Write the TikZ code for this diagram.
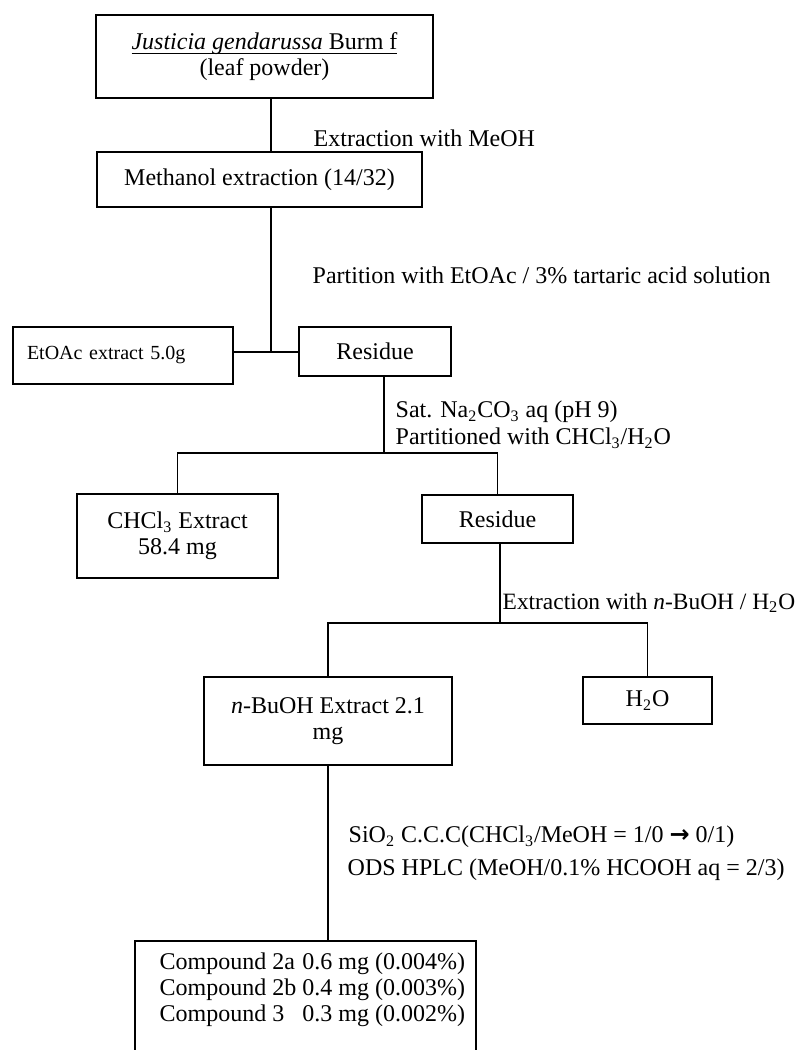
\documentclass[tikz,border=0pt]{standalone}
\usepackage{fontspec}
\setmainfont{Liberation Serif}
\newfontfamily\arrowfont{DejaVu Sans}

\begin{document}
\begin{tikzpicture}[x=0.5pt, y=-0.5pt, line width=0.7pt,
every node/.style={font=\fontsize{12pt}{13pt}\selectfont},
flowbox/.style={draw, inner sep=0pt, align=center},
steptext/.style={anchor=west, inner sep=0pt},
]
\clip (0,0) rectangle (800,1050);

\node (plant) [flowbox, minimum width=168.5pt, minimum height=41.5pt] at (264.5,56.5) {\underline{\raisebox{0pt}[\height][0.6pt]{\textit{Justicia gendarussa} Burm f}}\\(leaf powder)};
\node (meoh) [flowbox, minimum width=162.5pt, minimum height=27.5pt] at (259.5,179.5) {Methanol extraction (14/32)};
\node (etoac) [flowbox, minimum width=110pt, minimum height=28.5pt, text width=96pt, align=left, font=\fontsize{10pt}{12pt}\selectfont] at (123,355.5) {EtOAc extract 5.0g};
\node (res1) [flowbox, minimum width=76pt, minimum height=24.5pt] at (375,351.5) {Residue};
\node (chcl) [flowbox, minimum width=100.5pt, minimum height=42pt] at (177.5,536) {CHCl\textsubscript{3} Extract\\58.4 mg};
\node (res2) [flowbox, minimum width=75.5pt, minimum height=24pt] at (497.5,519) {Residue};
\node (nbuoh) [flowbox, minimum width=124pt, minimum height=44pt] at (328,721) {\textit{n}-BuOH Extract 2.1\\mg};
\node (water) [flowbox, minimum width=64.5pt, minimum height=23.5pt] at (647.5,700.5) {H\textsubscript{2}O};
\node (cmpd) [anchor=west, inner sep=0pt] at (159,990) {\begin{tabular}{@{}l@{ }l@{}}
Compound 2a & 0.6 mg (0.004\%)\\
Compound 2b & 0.4 mg (0.003\%)\\
Compound 3 & 0.3 mg (0.002\%)
\end{tabular}};
\draw (135,1060) |- (476,941) -- (476,1060);

\node (lmeoh) [steptext] at (313,138) {Extraction with MeOH};
\node (lpart) [steptext] at (312,275) {Partition with EtOAc / 3\% tartaric acid solution};
\node (lsat) [steptext] at (395,412) {Sat. Na\textsubscript{2}CO\textsubscript{3} aq (pH 9)};
\node (lchcl) [steptext] at (395,438) {Partitioned with CHCl\textsubscript{3}/H\textsubscript{2}O};
\node (lbuoh) [steptext, font=\fontsize{11.7pt}{13pt}\selectfont] at (502,603) {Extraction with \textit{n}-BuOH / H\textsubscript{2}O};
\node (lsio) [steptext] at (348,837) {SiO\textsubscript{2} C.C.C(CHCl\textsubscript{3}/MeOH = 1/0 {\arrowfont\bfseries →} 0/1)};
\node (lods) [steptext] at (347,870) {ODS HPLC (MeOH/0.1\% HCOOH aq = 2/3)};

\coordinate (j1) at (271,352);
\coordinate (j2) at (384,453);
\coordinate (j3) at (500,623);
\coordinate (cmpdtop) at (327,941);

\draw (plant.south -| j1) -- (meoh.north -| j1);
\draw (meoh.south -| j1) -- (j1);
\draw (etoac.east |- j1) -- (res1.west |- j1);
\draw (res1.south -| j2) -- (j2);
\draw (chcl.north) |- (j2) -| (res2.north);
\draw (res2.south -| j3) -- (j3);
\draw (nbuoh.north) |- (j3) -| (water.north);
\draw (nbuoh.south) -- (nbuoh.south |- cmpdtop);
\end{tikzpicture}
\end{document}
